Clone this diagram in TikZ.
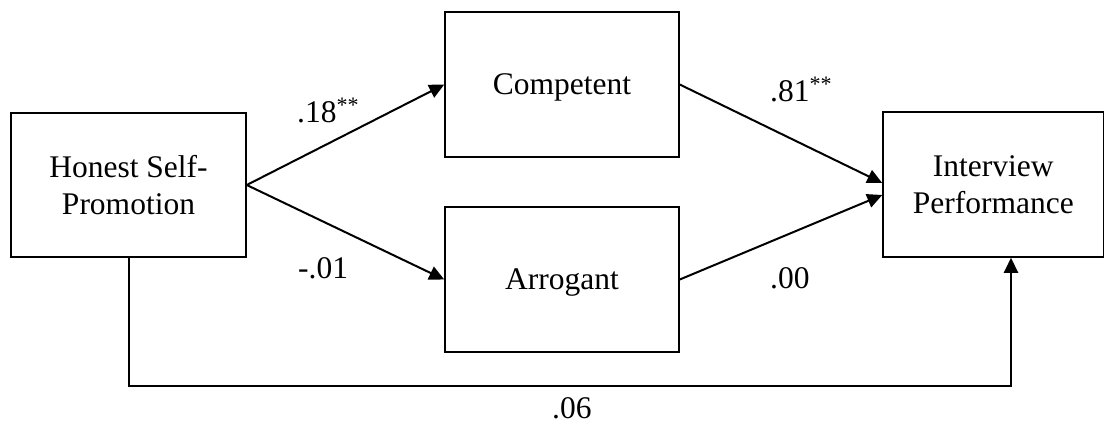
\documentclass[tikz,border=0pt]{standalone}
\usepackage{fontspec}
\setmainfont{Liberation Serif}
\usetikzlibrary{arrows.meta}

\begin{document}
\begin{tikzpicture}[x=1pt, y=-1pt,
  every node/.style={font=\fontsize{31.5}{36.5}\selectfont},
  varbox/.style={draw, line width=1.5pt, rectangle, inner sep=0pt, align=center, text depth=0pt},
  path/.style={line width=2pt, -{Triangle[length=15pt, width=14pt]}},
  coef/.style={anchor=base west, inner sep=0pt}
]
  \useasboundingbox (0,0) rectangle (1105,424);

  % variables
  \node[varbox, minimum width=235pt, minimum height=144pt] (hsp) at (128.5,185) {Honest Self-\\Promotion};
  \node[varbox, minimum width=234pt, minimum height=145pt] (comp) at (562,84.5) {Competent};
  \node[varbox, minimum width=234pt, minimum height=145pt] (arr) at (562,279.5) {Arrogant};
  \node[varbox, minimum width=220.5pt, minimum height=145pt] (perf) at (993.25,184.5) {Interview\\Performance};

  % mediated paths
  \draw[path] (hsp.east) -- (comp.west);
  \draw[path] (hsp.east) -- (arr.west);
  \draw[path] (comp.east) -- ([yshift=1.5pt]perf.west);
  \draw[path] (arr.east) -- ([yshift=-10.5pt]perf.west);

  % direct path
  \coordinate (low) at (1011,386);
  \draw[path] (hsp.south) -- (hsp.south |- low) -- (low) -- (low |- perf.south);

  % path coefficients
  \node[coef] (k1) at (297,122) {.18\textsuperscript{**}};
  \node[coef] (k2) at (298,278) {-.01};
  \node[coef] (k3) at (770,101) {.81\textsuperscript{**}};
  \node[coef] (k4) at (770,288) {.00};
  \node[coef] (k5) at (552,418) {.06};
\end{tikzpicture}
\end{document}
